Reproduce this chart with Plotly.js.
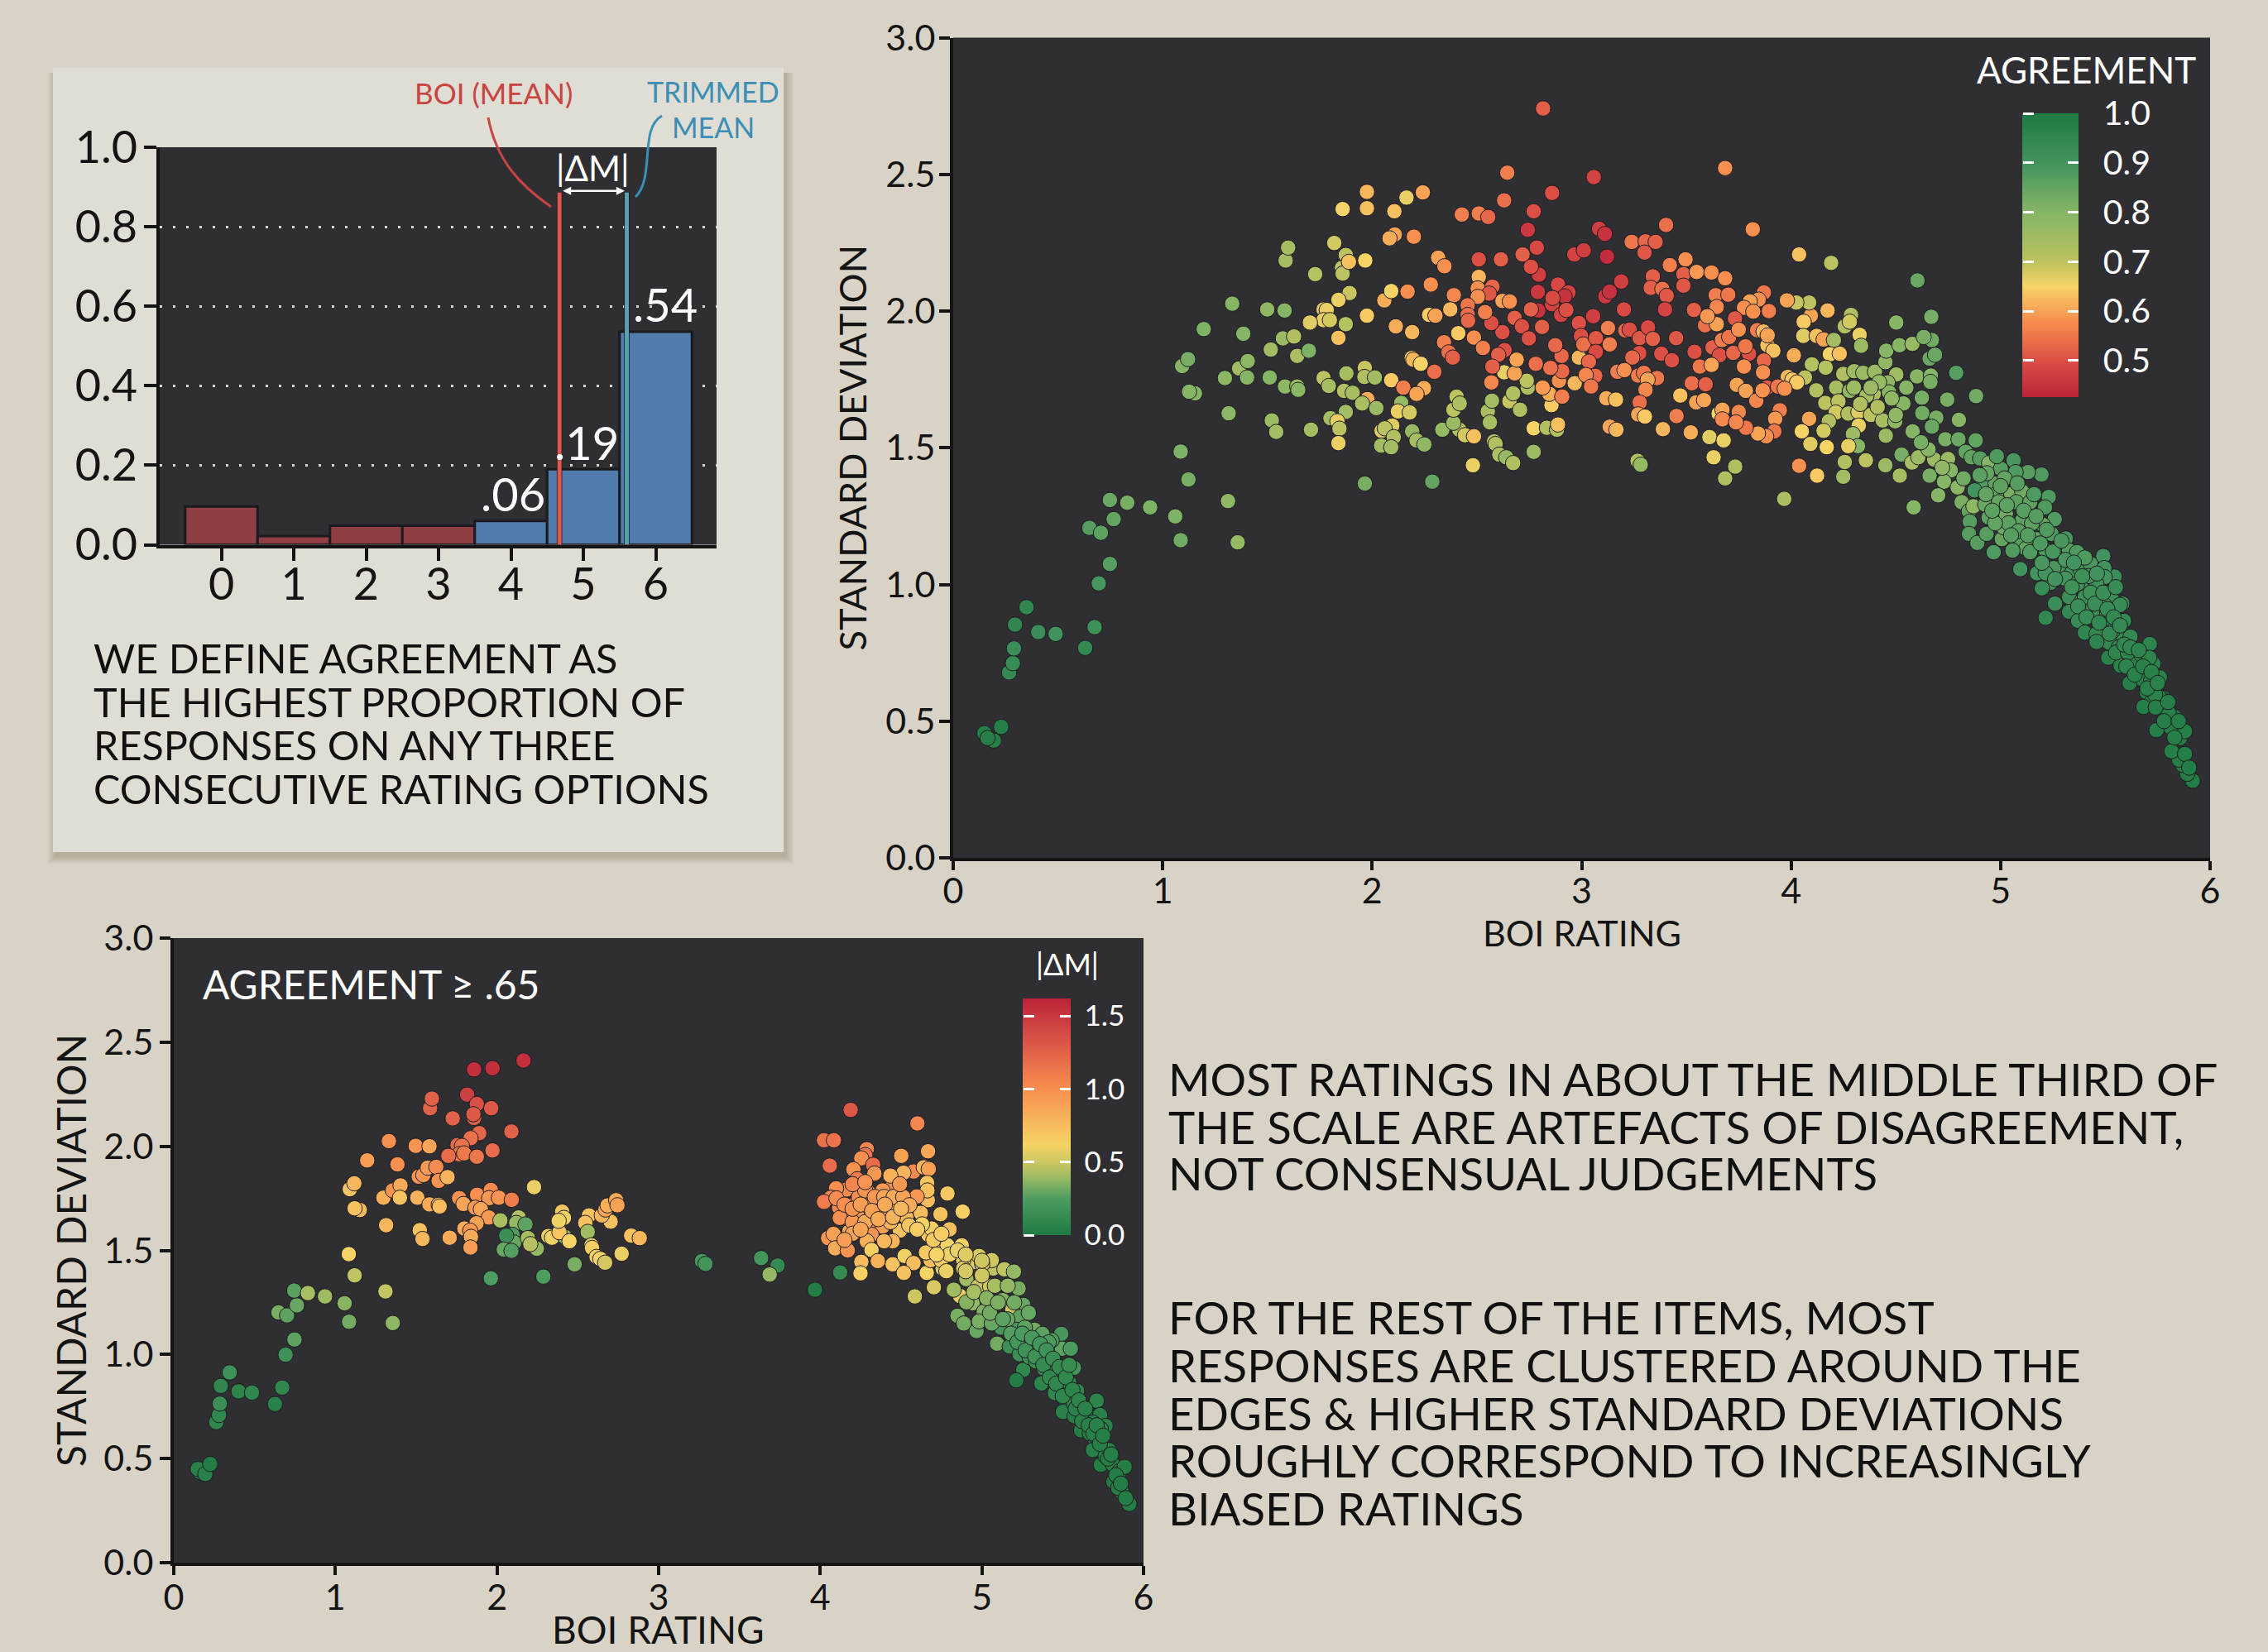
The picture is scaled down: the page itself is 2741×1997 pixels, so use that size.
<!DOCTYPE html>
<html>
<head>
<meta charset="utf-8">
<script src="https://cdn.plot.ly/plotly-3.0.1.min.js"></script>
<style>html,body{margin:0;padding:0;background:#d9d3c7}</style>
</head>
<body>
<div id="chart" style="width:2741px;height:1997px"></div>
<script>
// ---- bar panel data
const ratingOptions = [0, 1, 2, 3, 4, 5, 6];
const responseShare = [0.096, 0.022, 0.048, 0.048, 0.06, 0.19, 0.536];
const barLabels = ['', '', '', '', '.06', '.19', '.54'];
const barLabelShift = [0, 0, 0, 0, 0, 0.02, 0.1];
const meanRating = 4.67;
const trimmedMeanRating = 5.60;
const meanLineTop = 0.886;

// ---- all items: [BOI rating, standard deviation, agreement]
const allItems = [
[.149,.456,.98],[.194,.429,.98],[.164,.438,.98],[.229,.479,.98],[.267,.678,.94],[.285,.712,.93],[.290,.766,.92],[.295,.853,.95],[.350,.917,.95],[.406,.826,.92],
[.489,.819,.90],[.630,.768,.94],[.675,.844,.91],[.695,1.004,.89],[.748,1.075,.87],[.650,1.207,.87],[.705,1.189,.86],[.766,1.239,.85],[.748,1.309,.84],[.831,1.299,.82],
[.940,1.282,.81],[1.060,1.249,.81],[1.086,1.162,.83],[1.312,1.305,.78],[1.358,1.154,.77],[1.123,1.384,.82],[1.086,1.486,.81],[1.315,1.626,.79],[1.154,1.699,.8],[1.126,1.705,.8],
[1.093,1.799,.8],[1.121,1.824,.82],[1.196,1.934,.81],[1.332,2.027,.8],[1.385,1.917,.8],[1.297,1.755,.79],[1.365,1.790,.75],[1.406,1.817,.79],[1.403,1.757,.8],[1.511,1.757,.8],
[1.516,1.859,.75],[1.499,2.006,.78],[1.582,2.002,.8],[1.587,2.185,.74],[1.599,2.232,.74],[1.574,1.900,.76],[1.627,1.907,.72],[1.642,1.836,.73],[1.698,1.855,.81],[1.584,1.724,.78],
[1.642,1.724,.76],[1.647,1.712,.79],[1.521,1.600,.76],[1.542,1.558,.75],[1.708,1.566,.74],[1.728,2.135,.71],[1.819,2.249,.68],[1.859,2.373,.65],[1.874,2.205,.7],[1.856,2.158,.7],
[1.859,2.137,.7],[1.889,2.180,.63],[1.967,2.185,.65],[1.975,2.436,.62],[1.975,2.376,.63],[2.164,2.415,.66],[2.106,2.365,.63],[2.242,2.434,.6],[2.108,2.280,.6],[2.083,2.266,.61],
[2.199,2.272,.58],[1.892,2.066,.69],[1.839,2.041,.66],[1.768,2.006,.67],[1.783,2.004,.66],[1.768,1.967,.66],[1.798,1.967,.68],[1.703,1.958,.67],[1.874,1.952,.71],[1.839,1.902,.63],
[1.975,1.983,.64],[2.058,2.039,.61],[2.091,2.073,.65],[2.169,2.071,.58],[2.113,1.944,.61],[2.191,1.923,.62],[2.280,2.097,.58],[2.315,2.195,.6],[2.345,2.164,.58],[2.390,2.058,.57],
[2.272,1.986,.64],[2.302,1.983,.6],[2.373,2.006,.62],[2.411,1.919,.64],[2.486,1.903,.58],[2.343,1.886,.56],[2.365,1.849,.54],[2.385,1.830,.52],[2.529,1.865,.56],[2.189,1.828,.64],
[2.196,1.822,.62],[2.232,1.807,.65],[2.297,1.778,.54],[1.965,1.792,.69],[1.963,1.759,.72],[2.013,1.757,.75],[1.877,1.772,.74],[1.768,1.755,.7],[1.793,1.726,.74],[1.866,1.708,.72],
[1.907,1.701,.74],[2.091,1.747,.64],[2.149,1.720,.56],[2.247,1.718,.61],[2.212,1.697,.6],[1.977,1.678,.61],[1.952,1.662,.73],[1.874,1.631,.75],[2.020,1.645,.76],[2.139,1.664,.77],
[2.123,1.633,.66],[2.179,1.629,.68],[1.801,1.608,.74],[1.834,1.597,.66],[1.844,1.570,.7],[1.839,1.517,.66],[2.096,1.581,.67],[2.045,1.562,.67],[2.060,1.571,.7],[2.103,1.539,.72],
[2.043,1.508,.75],[2.091,1.502,.75],[2.191,1.560,.77],[2.212,1.527,.74],[2.249,1.512,.78],[1.965,1.369,.82],[2.287,1.376,.85],[2.335,1.566,.77],[2.416,1.566,.72],[2.443,1.546,.68],
[2.486,1.542,.63],[2.388,1.591,.76],[2.388,1.639,.7],[2.403,1.687,.7],[2.418,1.662,.73],[2.481,1.436,.66],[2.552,1.633,.73],[2.572,1.672,.75],[2.562,1.593,.74],[2.569,1.739,.57],
[2.582,1.523,.7],[2.589,1.514,.72],[2.607,1.475,.73],[2.640,1.465,.77],[2.673,1.444,.72],[2.771,1.485,.76],[2.655,1.670,.69],[2.673,1.699,.72],[2.706,1.639,.72],[2.743,1.720,.73],
[2.738,1.745,.7],[2.630,1.776,.66],[2.680,1.772,.6],[2.771,1.571,.65],[2.834,1.573,.72],[2.882,1.566,.72],[2.887,1.585,.63],[2.856,1.656,.64],[2.846,1.697,.61],[2.907,1.687,.56],
[2.892,1.745,.58],[2.814,1.720,.59],[2.967,1.736,.62],[2.987,1.830,.62],[2.907,1.780,.53],[2.904,1.836,.53],[2.874,1.875,.53],[2.851,1.792,.54],[2.781,1.807,.54],[2.690,1.822,.6],
[2.632,1.857,.5],[2.602,1.840,.52],[2.574,1.797,.52],[2.622,1.923,.5],[2.569,1.956,.5],[2.539,1.996,.56],[2.680,1.975,.52],[2.715,1.944,.5],[2.748,1.900,.5],[2.811,1.942,.52],
[2.793,2.002,.45],[2.758,2.006,.52],[2.859,2.025,.48],[2.791,2.070,.46],[2.796,2.133,.47],[2.758,2.162,.5],[2.786,2.232,.49],[2.718,2.207,.52],[2.615,2.189,.52],[2.509,2.189,.5],
[2.509,2.125,.62],[2.504,2.083,.58],[2.574,2.089,.53],[2.559,2.064,.51],[2.504,2.052,.58],[2.456,2.021,.55],[2.456,1.986,.54],[2.458,1.965,.53],[2.622,2.037,.6],[2.657,2.035,.58],
[2.428,2.353,.56],[2.509,2.357,.56],[2.554,2.344,.53],[2.630,2.405,.54],[2.645,2.506,.56],[2.771,2.365,.5],[2.743,2.297,.46],[2.859,2.432,.5],[2.816,2.741,.52],[3.058,2.490,.48],
[3.083,2.301,.47],[3.111,2.282,.45],[3.121,2.199,.44],[2.965,2.207,.48],[3.010,2.222,.47],[3.113,2.054,.46],[3.134,2.071,.45],[3.189,2.108,.47],[3.055,1.981,.47],[3.202,2.006,.49],
[3.403,2.315,.54],[3.239,2.253,.55],[3.305,2.255,.53],[3.353,2.253,.52],[3.300,2.214,.51],[3.421,2.168,.56],[3.496,2.189,.58],[3.340,2.127,.52],[3.330,2.085,.52],[3.385,2.081,.54],
[3.406,2.056,.51],[3.398,2.006,.48],[3.486,2.135,.52],[3.486,2.093,.51],[3.549,2.143,.59],[3.620,2.141,.58],[3.685,2.120,.58],[3.685,2.523,.58],[2.887,2.097,.49],[2.937,2.068,.48],
[2.919,2.054,.45],[2.861,2.048,.49],[2.902,1.986,.48],[2.927,2.004,.5],[2.987,1.956,.5],[2.997,1.909,.5],[3.008,1.878,.54],[3.068,1.901,.51],[3.068,1.851,.49],[3.035,1.815,.53],
[3.065,1.763,.53],[3.020,1.766,.57],[3.045,1.724,.55],[3.126,1.938,.56],[3.134,1.878,.56],[3.171,1.778,.56],[3.209,1.929,.53],[3.229,1.932,.5],[3.277,1.901,.51],[3.317,1.940,.49],
[3.340,1.898,.52],[3.380,1.844,.5],[3.431,1.820,.5],[3.451,1.901,.51],[3.275,1.846,.5],[3.242,1.830,.53],[3.204,1.784,.58],[3.270,1.764,.56],[3.297,1.774,.55],[3.360,1.755,.55],
[3.315,1.749,.6],[3.305,1.712,.57],[3.277,1.666,.54],[3.118,1.681,.61],[3.164,1.676,.63],[3.270,1.622,.6],[3.302,1.614,.64],[3.134,1.577,.6],[3.166,1.566,.62],[3.388,1.568,.62],
[3.453,1.616,.56],[3.471,1.691,.63],[3.547,1.666,.6],[3.526,1.736,.54],[3.592,1.732,.52],[3.584,1.674,.6],[3.521,1.556,.61],[3.610,1.539,.67],[3.678,1.527,.66],[3.630,1.465,.66],
[3.685,1.388,.72],[3.733,1.431,.72],[3.267,1.452,.72],[3.282,1.438,.77],[3.539,1.851,.5],[3.564,1.797,.55],[3.625,1.867,.52],[3.658,1.838,.5],[3.620,1.803,.6],[3.536,2.004,.52],
[3.589,1.948,.54],[3.645,1.952,.6],[3.670,1.894,.56],[3.640,2.058,.56],[3.700,2.060,.55],[3.645,2.015,.57],[3.600,1.981,.59],[3.654,1.625,.65],[3.672,1.639,.6],[3.672,1.604,.57],
[3.817,2.299,.58],[4.038,2.207,.63],[4.191,2.176,.7],[4.603,2.112,.84],[4.669,1.979,.82],[4.502,1.958,.8],[4.286,1.986,.72],[4.256,1.944,.72],[4.280,1.961,.68],[4.327,1.913,.66],
[4.334,1.873,.76],[4.174,2.002,.62],[4.094,1.983,.6],[4.060,1.961,.64],[4.086,2.031,.7],[4.025,2.031,.69],[3.980,2.039,.6],[3.894,2.000,.56],[3.870,2.068,.55],[3.845,2.042,.58],
[3.803,2.035,.6],[3.775,2.012,.58],[3.819,1.998,.58],[3.732,1.973,.51],[3.838,1.930,.56],[3.887,1.875,.63],[3.915,1.855,.63],[3.868,1.925,.62],[3.888,1.911,.6],[3.870,1.819,.53],
[3.866,1.776,.58],[3.799,1.844,.5],[3.775,1.797,.58],[3.724,1.847,.53],[3.704,1.905,.55],[3.750,1.932,.58],[3.782,1.871,.55],[4.013,1.838,.61],[4.058,1.909,.67],[4.122,1.909,.63],
[4.155,1.896,.6],[4.204,1.894,.75],[4.185,1.842,.65],[4.232,1.844,.63],[4.099,1.805,.71],[4.165,1.793,.71],[3.984,1.759,.62],[4.006,1.749,.64],[4.066,1.757,.7],[4.028,1.739,.64],
[3.885,1.720,.52],[3.937,1.724,.55],[3.969,1.716,.58],[3.741,1.730,.6],[3.784,1.708,.6],[3.834,1.672,.57],[3.864,1.710,.58],[3.946,1.637,.56],[3.924,1.606,.59],[3.920,1.560,.55],
[3.881,1.542,.58],[3.842,1.552,.6],[3.784,1.573,.55],[3.750,1.631,.57],[3.737,1.593,.57],[4.086,1.606,.6],[4.051,1.560,.65],[4.092,1.514,.67],[4.170,1.502,.65],[4.038,1.434,.58],
[4.124,1.398,.64],[3.967,1.313,.73],[4.249,1.394,.75],[4.256,1.448,.72],[4.357,1.454,.7],[4.450,1.436,.76],[4.519,1.398,.74],[4.585,1.282,.8],[4.788,1.774,.87],[4.883,1.689,.83],
[4.745,1.676,.82],[4.801,1.602,.8],[4.881,1.527,.85],[5.195,1.402,.88],[5.230,1.320,.88],[5.258,1.239,.88],[5.311,1.168,.89],[5.490,1.104,.9],[5.544,1.029,.92],[5.581,.930,.92],
[5.215,.878,.95],[5.260,.930,.92],[5.712,.782,.96],[5.760,.660,.97],[5.917,.282,.99],[5.891,.307,.99],[5.869,.340,.99],[5.852,.359,.99],[5.816,.390,.98],[5.856,.438,.98],
[5.813,.477,.98],[5.744,.467,.98],[5.880,.463,.98],[5.785,.546,.98],[4.120,1.710,.72],[4.163,1.664,.7],[4.215,1.720,.74],[4.280,1.708,.78],[4.249,1.770,.72],[4.301,1.780,.76],
[4.344,1.774,.76],[4.400,1.778,.76],[4.450,1.813,.78],[4.454,1.855,.8],[4.517,1.875,.8],[4.579,1.880,.77],[4.502,1.768,.75],[4.461,1.739,.78],[4.394,1.697,.72],[4.467,1.703,.8],
[4.536,1.662,.8],[4.601,1.761,.8],[4.661,1.826,.84],[4.672,1.894,.83],[4.633,1.905,.82],[4.687,1.840,.84],[4.667,1.764,.8],[4.665,1.741,.82],[4.624,1.683,.82],[4.626,1.627,.83],
[4.693,1.610,.82],[4.672,1.577,.84],[4.736,1.531,.82],[4.799,1.531,.84],[4.226,1.670,.7],[4.213,1.629,.68],[4.180,1.597,.72],[4.155,1.562,.68],[4.273,1.625,.72],[4.321,1.631,.67],
[4.323,1.581,.66],[4.381,1.620,.7],[4.437,1.600,.74],[4.497,1.597,.78],[4.452,1.544,.76],[4.295,1.550,.76],[4.319,1.506,.8],[4.273,1.506,.66],[4.413,1.649,.72],[4.527,1.475,.82],
[4.577,1.446,.73],[4.683,1.457,.76],[4.661,1.398,.82],[4.607,1.465,.76],[4.656,1.494,.8],[4.749,1.459,.76],[4.762,1.417,.8],[4.730,1.376,.8],[4.702,1.326,.8],[4.795,1.355,.79],
[4.833,1.485,.85],[4.861,1.465,.85],[4.902,1.461,.87],[4.945,1.444,.8],[5.001,1.423,.87],[5.062,1.454,.89],[5.131,1.411,.87],[5.072,1.411,.88],[4.982,1.469,.88],[4.913,1.363,.88],
[4.976,1.369,.85],[5.051,1.330,.82],[5.103,1.340,.83],[4.876,1.344,.9],[4.978,1.330,.85],[4.814,1.301,.82],[4.848,1.268,.85],[4.870,1.286,.78],[4.926,1.292,.84],[4.853,1.230,.87],
[4.849,1.185,.87],[4.889,1.152,.87],[4.943,1.245,.86],[4.933,1.185,.87],[4.967,1.118,.88],[5.006,1.166,.85],[5.014,1.209,.84],[5.025,1.259,.83],[5.131,1.263,.87],[5.103,1.234,.86],
[5.202,1.218,.85],[5.212,1.282,.88],[5.243,1.185,.88],[5.169,1.166,.86],[5.094,1.147,.87],[5.122,1.131,.85],[5.057,1.124,.88],[5.216,1.124,.88],[5.281,1.124,.89],[5.327,1.124,.87],
[5.094,1.056,.9],[5.174,1.041,.9],[5.238,1.006,.91],[5.290,1.058,.9],[5.340,1.041,.9],[5.380,1.056,.89],[5.430,1.075,.89],[5.495,1.060,.9],[5.497,1.027,.9],[5.458,1.002,.91],
[5.383,.996,.9],[5.197,.986,.93],[5.327,.954,.92],[5.387,.938,.93],[5.533,.944,.92],[5.439,.892,.92],[5.508,.890,.93],[5.327,.900,.94],[5.370,.867,.93],[5.402,.824,.95],
[5.499,.853,.94],[5.458,.819,.94],[5.579,.815,.93],[5.620,.809,.94],[5.520,.786,.95],[5.458,.790,.96],[5.514,.732,.97],[5.564,.770,.95],[5.635,.737,.95],[5.573,.703,.97],
[5.648,.712,.96],[5.729,.710,.96],[5.616,.639,.98],[5.678,.653,.97],[5.719,.649,.97],[5.697,.606,.98],[5.719,.568,.98],[5.682,.552,.98],[5.775,.587,.97],[5.831,.515,.98],
[5.766,.587,.97],[4.991,1.301,.85],[5.075,1.301,.86],[5.141,1.301,.86],[5.038,1.224,.86],[4.973,1.224,.85],[5.085,1.195,.87],[5.150,1.224,.86],[5.141,1.118,.88],[5.365,1.118,.88],
[5.402,1.098,.88],[5.309,1.021,.9],[5.253,1.060,.89],[5.215,1.041,.9],[5.197,1.079,.89],[5.421,1.031,.9],[5.477,.954,.92],[5.495,.925,.92],[5.570,.925,.93],[5.421,.925,.92],
[5.589,.867,.94],[5.533,.828,.94],[5.551,.751,.96],[5.607,.751,.96],[5.673,.741,.96],[5.710,.732,.96],[5.757,.587,.97],[5.738,.597,.97],[5.803,.529,.98],[4.721,1.427,.78],
[4.823,1.388,.83],[4.935,1.407,.85],[5.019,1.388,.85],[5.365,1.002,.9],[5.402,.954,.92],
[4.90,1.40,.86],[4.93,1.33,.85],[4.96,1.27,.86],[5.00,1.36,.86],[5.03,1.29,.86],[5.05,1.18,.87],[5.08,1.37,.87],[5.11,1.27,.87],[5.13,1.18,.87],[5.16,1.33,.88],
[5.17,1.25,.87],[5.19,1.15,.88],[5.22,1.20,.88],[5.25,1.12,.89],[5.26,1.02,.9],[5.29,1.16,.89],[5.31,1.09,.89],[5.34,.99,.91],[5.35,1.08,.9],[5.37,.92,.92],
[5.39,1.03,.91],[5.41,.88,.93],[5.43,.97,.91],[5.45,.93,.92],[5.46,1.04,.9],[5.47,.86,.94],[5.49,.97,.92],[5.51,.91,.93],[5.52,.82,.94],[5.54,.88,.94],
[5.55,.99,.93],[5.57,.85,.94],[5.59,.78,.95],[5.60,.70,.96],[5.62,.77,.95],[5.64,.67,.97],[5.66,.76,.96],[5.68,.70,.97],[5.70,.62,.97],[5.72,.68,.97],
[5.74,.55,.98],[5.75,.64,.97],[5.78,.50,.98],[5.80,.57,.98],[5.83,.44,.98],[5.85,.50,.98],[5.88,.38,.99],[5.90,.33,.99],
[4.30,1.72,.76],[4.36,1.69,.75],[4.42,1.74,.77],[4.48,1.68,.78],[4.33,1.66,.72],[4.38,1.72,.76],[4.55,1.72,.8],[4.50,1.62,.78],[4.58,1.56,.8],[4.62,1.52,.82]
];

// ---- high-agreement items: [BOI rating, standard deviation, |delta M|]
const agreedItems = [
[.161,.436,.03],[.149,.450,.05],[.195,.426,.05],[.225,.474,.02],[.263,.675,.1],[.280,.709,.1],[.285,.764,.15],[.291,.849,.1],[.346,.914,.17],[.401,.823,.08],
[.484,.817,.1],[.626,.762,.05],[.671,.841,.1],[.692,.999,.17],[.747,1.072,.28],[.648,1.202,.33],[.701,1.188,.28],[.762,1.236,.3],[.745,1.307,.27],[.830,1.295,.42],
[.936,1.279,.4],[1.057,1.246,.36],[1.085,1.157,.32],[1.310,1.303,.48],[1.355,1.151,.37],[1.119,1.380,.47],[1.083,1.482,.62],[1.314,1.621,.78],[1.151,1.694,.75],[1.119,1.702,.72],
[1.089,1.794,.7],[1.117,1.822,.78],[1.197,1.932,.92],[1.331,2.025,1.0],[1.384,1.913,1.0],[1.297,1.753,.82],[1.355,1.788,.98],[1.403,1.812,.85],[1.399,1.753,.72],[1.497,2.002,.97],
[1.582,2.000,.87],[1.507,1.753,.8],[1.516,1.854,.97],[1.544,1.862,.95],[1.571,1.897,.93],[1.624,1.901,1.02],[1.639,1.834,.98],[1.694,1.852,.8],[1.582,1.721,.85],[1.639,1.719,.75],
[1.645,1.711,.75],[1.522,1.597,.72],[1.539,1.555,.78],[1.707,1.561,.85],[1.586,2.183,1.25],[1.597,2.229,1.25],[1.726,2.134,1.25],[1.858,2.369,1.55],[1.972,2.375,1.55],[2.164,2.412,1.55],
[1.815,2.248,1.45],[1.875,2.203,1.35],[1.964,2.183,1.3],[1.858,2.136,1.28],[1.854,2.154,1.3],[1.890,2.063,1.22],[2.089,2.071,1.25],[1.837,2.039,1.17],[1.972,1.980,1.2],[1.756,2.006,1.2],
[1.783,2.002,1.15],[1.766,1.962,1.13],[1.796,1.966,1.12],[1.699,1.954,1.2],[1.875,1.950,1.13],[1.766,1.751,1.0],[1.792,1.723,.88],[1.877,1.767,1.0],[1.962,1.790,1.03],[1.951,1.751,.95],
[2.011,1.753,.97],[2.091,1.743,1.1],[1.866,1.705,.95],[1.900,1.698,.88],[1.949,1.658,.95],[1.873,1.630,.9],[1.798,1.605,.85],[1.834,1.595,.95],[1.839,1.565,.85],[1.836,1.514,.92],
[2.229,1.804,.58],[1.962,1.366,.25],[2.287,1.374,.25],[2.480,1.433,.33],[2.021,1.644,.42],[2.134,1.658,.45],[2.119,1.632,.38],[2.176,1.625,.28],[2.096,1.575,.25],[2.106,1.538,.3],
[2.057,1.571,.15],[2.042,1.504,.3],[2.089,1.498,.26],[2.191,1.559,.42],[2.246,1.508,.38],[2.206,1.530,.45],[2.318,1.569,.58],[2.340,1.561,.6],[2.420,1.565,.38],[2.386,1.587,.7],
[2.448,1.544,.62],[2.403,1.686,.7],[2.414,1.656,.6],[2.382,1.642,.6],[2.569,1.668,.72],[2.546,1.632,.72],[2.561,1.589,.4],[2.584,1.524,.6],[2.588,1.512,.65],[2.616,1.469,.6],
[2.639,1.459,.62],[2.669,1.441,.52],[2.771,1.484,.58],[2.703,1.638,.72],[2.648,1.668,.78],[2.671,1.696,.88],[2.684,1.716,.82],[2.737,1.741,.85],[2.745,1.717,.9],[2.830,1.571,.72],
[2.883,1.559,.78],[3.268,1.449,.2],[3.290,1.435,.2],[3.634,1.463,.2],[3.736,1.427,.12],[3.687,1.384,.38],[3.967,1.311,.02],[4.123,1.394,.12],[4.188,2.175,1.3],[4.023,2.029,1.17],
[4.084,2.029,1.15],[4.059,1.907,1.2],[4.601,2.110,1.05],[4.501,1.954,.9],[4.667,1.976,.87],[4.288,1.986,1.05],[4.278,1.958,1.13],[4.254,1.942,1.0],[4.327,1.911,1.2],[4.335,1.869,.95],
[4.205,1.889,.98],[4.229,1.842,1.1],[4.577,1.879,1.03],[4.515,1.873,.8],[4.640,1.899,.78],[4.671,1.891,.9],[4.661,1.824,.7],[4.665,1.741,.75],[4.663,1.788,.72],[4.787,1.773,.68],
[4.881,1.686,.65],[4.744,1.674,.72],[4.800,1.601,.73],[4.622,1.680,.75],[4.597,1.759,.95],[4.448,1.808,.97],[4.386,1.788,.93],[4.299,1.777,.95],[4.162,1.792,1.03],[4.098,1.798,1.0],
[4.065,1.753,1.05],[4.023,1.733,1.1],[4.117,1.706,1.03],[4.213,1.721,.93],[4.288,1.706,.75],[4.391,1.692,.95],[4.468,1.698,.82],[4.532,1.660,.75],[4.160,1.662,1.03],[4.229,1.666,.95],
[4.317,1.632,1.05],[4.386,1.615,.9],[4.493,1.595,.73],[4.180,1.591,.85],[4.317,1.575,.97],[4.448,1.544,.8],[4.049,1.559,.97],[4.082,1.579,.9],[4.092,1.510,.85],[4.170,1.500,.97],
[4.288,1.544,.82],[4.317,1.502,.65],[4.254,1.445,.75],[4.249,1.390,.63],[4.356,1.449,.82],[4.448,1.433,.72],[4.522,1.473,.6],[4.577,1.439,.75],[4.517,1.392,.72],[4.659,1.392,.62],
[4.683,1.453,.75],[4.654,1.490,.68],[4.585,1.279,.5],[4.703,1.323,.53],[4.669,1.575,.67],[4.689,1.605,.65],[4.630,1.625,.62],[4.738,1.534,.62],[4.875,1.524,.63],[4.757,1.413,.55],
[4.943,1.443,.56],[5.070,1.413,.47],[5.139,1.409,.47],[5.198,1.398,.38],[5.061,1.453,.5],[4.904,1.362,.4],[4.977,1.327,.48],[5.051,1.327,.52],[4.865,1.281,.57],[4.943,1.246,.38],
[5.012,1.206,.35],[4.849,1.186,.33],[4.888,1.149,.32],[4.967,1.113,.3],[5.129,1.261,.35],[5.227,1.317,.33],[5.256,1.238,.3],[5.188,1.214,.5],[5.237,1.180,.28],[5.119,1.129,.22],
[5.213,1.119,.22],[5.325,1.119,.32],[5.094,1.052,.32],[5.172,1.038,.15],[5.233,1.001,.15],[5.286,1.054,.2],[5.344,1.038,.22],[5.491,1.099,.22],[5.495,1.028,.28],[5.550,1.028,.24],
[5.569,.936,.2],[5.432,1.068,.25],[5.256,.926,.1],[5.213,.876,.02],[5.384,.932,.1],[5.368,.861,.08],[5.501,.896,.14],[5.501,.851,.08],[5.452,.815,.1],[5.515,.784,.1],
[5.579,.811,.08],[5.501,.724,.06],[5.569,.764,.08],[5.710,.778,.08],[5.648,.709,.05],[5.573,.703,.04],[5.614,.636,.03],[5.731,.709,.06],[5.765,.657,.05],[5.697,.598,.05],
[5.718,.567,.04],[5.785,.541,.05],[5.736,.470,.02],[5.810,.472,.03],[5.853,.440,.03],[5.814,.389,.02],[5.867,.338,.02],[5.912,.282,.02],[5.883,.460,.03],[5.687,.541,.05],
[5.843,.359,.02],[4.885,1.453,.58],[4.982,1.473,.52],[5.002,1.433,.52],[4.885,1.413,.55],[4.787,1.524,.62],[4.748,1.453,.66],[4.826,1.311,.4],[4.904,1.251,.35],[4.982,1.159,.33],
[5.061,1.149,.3],[5.158,1.169,.3],[5.266,1.129,.28],[5.374,1.099,.28],[5.413,1.058,.24],[5.295,.987,.15],[5.335,.967,.15],[5.423,.926,.12],[5.472,.906,.13],[5.540,.865,.1],
[5.589,.825,.1],[5.628,.744,.07],[5.687,.673,.06],[5.736,.642,.06],[5.667,.622,.05],[5.765,.511,.04],[4.121,1.656,1.0],[4.200,1.636,.95],[4.239,1.757,1.0],[4.278,1.788,.97],
[4.337,1.757,.95],[4.395,1.757,.88],[4.454,1.757,.85],[4.513,1.757,.88],[4.552,1.717,.85],[4.434,1.636,.8],[4.395,1.544,.78],[4.278,1.636,.85],[4.200,1.818,1.05],[4.278,1.828,.97],
[4.434,1.859,.82],[4.493,1.818,.95],
[4.95,1.30,.42],[4.90,1.40,.52],[5.00,1.38,.5],[5.03,1.27,.36],[5.05,1.20,.32],[5.08,1.33,.42],[5.10,1.25,.34],[5.13,1.17,.28],[5.16,1.33,.38],[5.18,1.10,.26],
[5.20,1.25,.32],[5.22,1.06,.2],[5.25,1.10,.24],[5.27,1.02,.18],[5.29,1.20,.3],[5.31,1.08,.22],[5.33,.99,.16],[5.36,1.05,.2],[5.38,.95,.12],[5.40,1.02,.18],
[5.42,.89,.1],[5.44,.98,.14],[5.46,.86,.1],[5.48,.94,.12],[5.50,.80,.08],[5.52,.89,.1],[5.54,.95,.14],[5.56,.83,.08],[5.58,.74,.06],[5.60,.78,.07],
[5.62,.68,.05],[5.64,.74,.06],[5.66,.66,.05],[5.69,.62,.05],[5.71,.66,.05],[5.73,.57,.04],[5.75,.61,.04],[5.78,.50,.03],[5.80,.52,.04],[5.83,.42,.02],
[5.86,.38,.02],[5.89,.31,.02],
[4.7,1.55,.68],[4.75,1.58,.66],[4.8,1.48,.6],[4.85,1.50,.58],[4.72,1.48,.62],[4.78,1.40,.58],[4.9,1.48,.55],[5.0,1.45,.5],[4.1,1.75,1.02],[4.15,1.72,1.0],
[4.2,1.70,.98],[4.25,1.72,.92],[4.32,1.69,.9],[4.36,1.65,.85],[4.4,1.72,.85],[4.45,1.66,.8],[4.5,1.7,.78],[4.55,1.62,.7],[4.6,1.6,.66],[4.2,1.58,.9],
[4.25,1.6,.88],[4.15,1.55,.92]
];

// ---- text
const stdTicks = [0, 0.5, 1, 1.5, 2, 2.5, 3];
const ratingTicks = [0, 1, 2, 3, 4, 5, 6];
const shareTicks = [0, 0.2, 0.4, 0.6, 0.8, 1];
const agreementTicks = [0.5, 0.6, 0.7, 0.8, 0.9, 1.0];
const deltaTicks = [0, 0.5, 1, 1.5];
const definitionLines = ['WE DEFINE AGREEMENT AS','THE HIGHEST PROPORTION OF','RESPONSES ON ANY THREE','CONSECUTIVE RATING OPTIONS'];
const findingOne = ['MOST RATINGS IN ABOUT THE MIDDLE THIRD OF','THE SCALE ARE ARTEFACTS OF DISAGREEMENT,','NOT CONSENSUAL JUDGEMENTS'];
const findingTwo = ['FOR THE REST OF THE ITEMS, MOST','RESPONSES ARE CLUSTERED AROUND THE','EDGES & HIGHER STANDARD DEVIATIONS','ROUGHLY CORRESPOND TO INCREASINGLY','BIASED RATINGS'];

// ---- style and layout helpers
const W = 2741, H = 1997;
const FONT = 'Lato, "Open Sans", sans-serif';
const INK = '#141414', PANEL = '#2f2e33', PAPER = '#d9d3c7', CARD = '#dfddd4';
const px = v => v / W, py = v => 1 - v / H;
const domX = (a, b) => [a / W, b / W], domY = (top, bottom) => [1 - bottom / H, 1 - top / H];

const agreementScale = [[0,'#bc2439'],[.129,'#dc4f45'],[.268,'#f78f4f'],[.39,'#f6d365'],[.477,'#bcc25f'],[.652,'#85b565'],[.826,'#42935d'],[1,'#1f7a43']];
const deltaScale = [[0,'#1f7a43'],[.154,'#4d9c60'],[.247,'#9fbc63'],[.309,'#cfc662'],[.383,'#f6d365'],[.617,'#f78f4f'],[.8,'#dc5a48'],[1,'#bc2439']];

function scatter(items, xa, ya, scale, cmin, cmax, cb) {
  return {type:'scatter', mode:'markers', xaxis:xa, yaxis:ya, hoverinfo:'skip',
    x:items.map(d=>d[0]), y:items.map(d=>d[1]),
    marker:{size:18.5, color:items.map(d=>d[2]), colorscale:scale, cmin, cmax, showscale:true,
      line:{color:'#1e1d20', width:1}, colorbar:cb}};
}
function leftTicks(xa, ya, scale, cmin, cmax, vals, xPix, topPix, lenPix) {
  // thin companion colour bar: only its tick marks matter, on the bar's left edge
  return {type:'scatter', mode:'markers', xaxis:xa, yaxis:ya, hoverinfo:'skip', x:[null,null], y:[null,null],
    marker:{color:[cmin,cmax], colorscale:scale, cmin, cmax, showscale:true,
      colorbar:{x:px(xPix), xanchor:'left', xpad:0, ypad:0, y:py(topPix), yanchor:'top', thickness:1, thicknessmode:'pixels',
        len:lenPix, lenmode:'pixels', outlinewidth:0, ticks:'outside', ticklen:13, tickwidth:3, tickcolor:'#ffffff',
        showticklabels:false, tickmode:'array', tickvals:vals}}};
}
function colorbar(vals, xPix, xw, topPix, lenPix, size, pad) {
  return {x:px(xPix), xanchor:'left', xpad:0, ypad:0, y:py(topPix), yanchor:'top', thickness:xw, thicknessmode:'pixels',
    len:lenPix, lenmode:'pixels', outlinewidth:0, ticks:'inside', ticklen:13, tickwidth:3, tickcolor:'#ffffff',
    tickmode:'array', tickvals:vals, ticktext:vals.map(v=>pad+v.toFixed(1)),
    tickfont:{family:FONT, size, color:'#ffffff'}};
}
function axisBase(size, extra) {
  return Object.assign({showline:true, linecolor:INK, linewidth:4, ticks:'outside', ticklen:13, tickwidth:4, tickcolor:INK,
    tickfont:{family:FONT, size, color:INK}, zeroline:false, showgrid:false, mirror:false, automargin:false, fixedrange:true, ticklabelstandoff:0}, extra);
}
function textLine(text, xPix, yPix, size, color, anchor) {
  return {xref:'paper', yref:'paper', x:px(xPix), y:py(yPix), text, showarrow:false, xanchor:anchor||'left', yanchor:'middle',
    font:{family:FONT, size, color}};
}

// ---- traces
const traces = [
  scatter(allItems, 'x', 'y', agreementScale, 0.426, 1, colorbar(agreementTicks, 2444, 68, 137, 343, 41, '\u00a0\u00a0')),
  scatter(agreedItems, 'x2', 'y2', deltaScale, 0, 1.62, colorbar(deltaTicks, 1236, 58, 1207, 286, 35, '\u00a0')),
  leftTicks('x', 'y', agreementScale, 0.426, 1, agreementTicks, 2443.5, 137, 343),
  leftTicks('x2', 'y2', deltaScale, 0, 1.62, deltaTicks, 1235.5, 1207, 286),
  {type:'bar', xaxis:'x3', yaxis:'y3', x:ratingOptions, y:responseShare, width:1, hoverinfo:'skip',
    marker:{color:ratingOptions.map(r=> r<4 ? '#8f3f43' : '#507dae'), line:{color:'#1a1a1f', width:3}}},
  {type:'scatter', mode:'lines', xaxis:'x3', yaxis:'y3', x:[meanRating,meanRating], y:[0,meanLineTop], line:{color:'#1a1a1f', width:6.5}, hoverinfo:'skip'},
  {type:'scatter', mode:'lines', xaxis:'x3', yaxis:'y3', x:[meanRating,meanRating], y:[0,meanLineTop], line:{color:'#e2574c', width:5}, hoverinfo:'skip'},
  {type:'scatter', mode:'lines', xaxis:'x3', yaxis:'y3', x:[trimmedMeanRating,trimmedMeanRating], y:[0,meanLineTop], line:{color:'#1a1a1f', width:6.5}, hoverinfo:'skip'},
  {type:'scatter', mode:'lines', xaxis:'x3', yaxis:'y3', x:[trimmedMeanRating,trimmedMeanRating], y:[0,meanLineTop], line:{color:'#5ba0ad', width:5}, hoverinfo:'skip'}
];

// ---- annotations
const annotations = [];
definitionLines.forEach((t,i)=>annotations.push(textLine(t, 111, [795,848,900,953][i], 48.5, '#111111')));
findingOne.forEach((t,i)=>annotations.push(textLine(t, 1410, [1304,1362,1418][i], 54.5, '#111111')));
findingTwo.forEach((t,i)=>annotations.push(textLine(t, 1410, [1592,1650,1708,1765,1823][i], 54.5, '#111111')));
annotations.push(textLine('BOI (MEAN)', 596, 112, 35, '#c8443f', 'center'));
annotations.push(textLine('TRIMMED', 862, 110, 34, '#3b8fb5', 'center'));
annotations.push(textLine('MEAN', 862, 153, 34, '#3b8fb5', 'center'));
annotations.push(textLine('AGREEMENT', 2521, 84, 44, '#ffffff', 'center'));
annotations.push(textLine('|ΔM|', 1290, 1165, 36, '#ffffff', 'center'));
annotations.push(textLine('AGREEMENT ≥ .65', 243, 1189, 48, '#ffffff'));
annotations.push(textLine('BOI RATING', 1912, 1127, 43, INK, 'center'));
annotations.push(textLine('BOI RATING', 795, 1969, 46, INK, 'center'));
barLabels.forEach((t,i)=>{ if(t) annotations.push({xref:'x3', yref:'y3', x:ratingOptions[i]+0.03+barLabelShift[i], y:responseShare[i]-0.005, text:t, showarrow:false, yanchor:'bottom', xanchor:'center',
  font:{family:FONT, size:56, color:'#ffffff'}}); });
annotations.push({xref:'x3', yref:'y3', x:(meanRating+trimmedMeanRating)/2, y:0.948, text:'|ΔM|', showarrow:false, font:{family:FONT, size:42, color:'#ffffff'}});
annotations.push({xref:'x3', yref:'y3', axref:'x3', ayref:'y3', x:trimmedMeanRating-0.03, y:0.89, ax:meanRating+0.03, ay:0.89, text:'', showarrow:true,
  arrowside:'end+start', arrowhead:2, arrowsize:0.8, arrowwidth:2.5, arrowcolor:'#ffffff'});

// ---- card, shadow, bar-panel background, leader lines
const shapes = [];
[10,8,6,4,2].forEach(s=>shapes.push({type:'rect', layer:'below', xref:'paper', yref:'paper', x0:px(64+4-s), x1:px(947+2+s), y0:py(1030+4+s), y1:py(82+6),
  fillcolor:'rgba(120,95,70,0.07)', line:{width:0}}));
shapes.push({type:'rect', layer:'below', xref:'paper', yref:'paper', x0:px(64), x1:px(947), y0:py(82), y1:py(1030), fillcolor:CARD, line:{width:0}});
shapes.push({type:'rect', layer:'below', xref:'paper', yref:'paper', x0:px(193), x1:px(866), y0:py(178), y1:py(658.5), fillcolor:PANEL, line:{width:0}});
const P = (x,y)=>`${px(x)},${py(y)}`;
shapes.push({type:'path', xref:'paper', yref:'paper', path:`M ${P(590,142)} C ${P(600,195)} ${P(630,225)} ${P(666,250)}`, line:{color:'#c8443f', width:3}});
shapes.push({type:'path', xref:'paper', yref:'paper', path:`M ${P(800,140)} C ${P(772,155)} ${P(792,215)} ${P(768,238)}`, line:{color:'#3b8fb5', width:3}});

const layout = {
  width:W, height:H, margin:{l:0,r:0,t:0,b:0,pad:0}, paper_bgcolor:PAPER, plot_bgcolor:PANEL, showlegend:false,
  font:{family:FONT, color:INK},
  xaxis:axisBase(43,{domain:domX(1152,2671), range:[0,6], tickvals:ratingTicks, anchor:'y', ticklen:11, ticklabelstandoff:-12}),
  yaxis:axisBase(43,{domain:domY(45.5,1037), range:[0,3], tickvals:stdTicks, tickformat:'.1f', anchor:'x', ticklabelstandoff:-4,
    title:{text:'STANDARD DEVIATION', font:{family:FONT, size:45, color:INK}, standoff:10}}),
  xaxis2:axisBase(43,{domain:domX(210,1382), range:[0,6], tickvals:ratingTicks, anchor:'y2', ticklen:11, ticklabelstandoff:-10}),
  yaxis2:axisBase(43,{domain:domY(1134,1889), range:[0,3], tickvals:stdTicks, tickformat:'.1f', anchor:'x2', ticklabelstandoff:-1,
    title:{text:'STANDARD DEVIATION', font:{family:FONT, size:48, color:INK}, standoff:7}}),
  xaxis3:axisBase(54,{domain:domX(193,866), range:[-0.852,6.84], tickvals:ratingOptions, anchor:'y3', ticklen:15, ticklabelstandoff:-17}),
  yaxis3:axisBase(54,{domain:domY(178,658.5), range:[0,1], tickvals:shareTicks, tickformat:'.1f', anchor:'x3', ticklen:15, ticklabelstandoff:-3,
    showgrid:true, griddash:'3px,13px', gridcolor:'rgba(255,255,255,0.8)', gridwidth:3}),
  bargap:0, shapes, annotations
};
Plotly.newPlot('chart', traces, layout, {staticPlot:true, displayModeBar:false});
</script>
</body>
</html>
